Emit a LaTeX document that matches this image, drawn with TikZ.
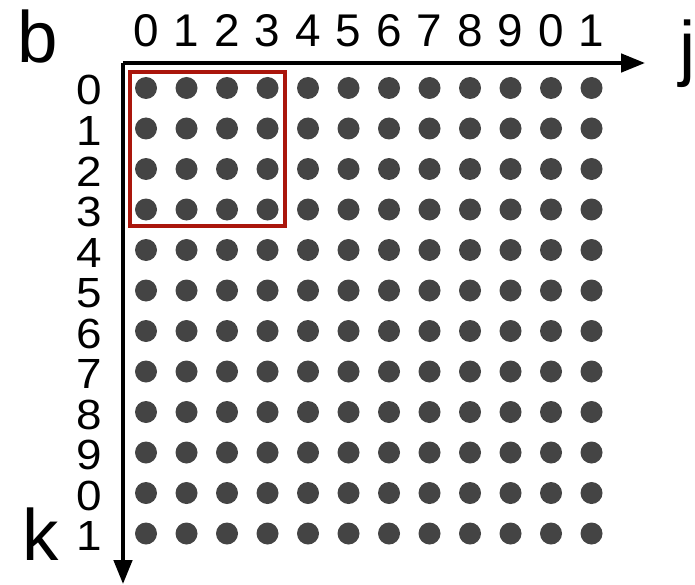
\documentclass[tikz,border=0pt]{standalone}
\usepackage{fontspec}
\setmainfont{Liberation Sans}
\usetikzlibrary{arrows.meta}
\definecolor{dotgray}{RGB}{68,68,68}
\definecolor{tilered}{RGB}{170,22,12}
\tikzset{
    axisline/.style={line width=2.6pt, -{Triangle[length=17pt, width=13pt]}},
    idxlabel/.style={anchor=base, inner sep=0pt, font=\fontsize{32.6}{34}\selectfont},
    axislabel/.style={anchor=base, inner sep=0pt, font=\fontsize{51.7}{54}\selectfont},
    griddot/.style={fill=dotgray},
    tilebox/.style={draw=tilered, line width=2.9pt}
}
\begin{document}
\begin{tikzpicture}[x=0.025cm, y=-0.025cm]
    % 1 unit = 1 pixel of the original figure
    \useasboundingbox (0, 0) rectangle (695, 584);
    \def\dotsep{40.5}
    \def\dotx{146}
    \def\doty{88}

    % Axes
    \coordinate (origin) at (123, 63);
    \coordinate (jend) at (645, 63);
    \coordinate (kend) at (123, 584);
    \draw[axisline] (origin) -- (jend);
    \draw[axisline] (origin) -- (kend);

    % Axis names
    \node[axislabel] (b) at (38, 63) {b};
    \node[axislabel] (j) at (688, 73) {j};
    \node[axislabel] (k) at (41, 560) {k};

    % Column indices (j)
    \foreach \c/\lab in {0/0, 1/1, 2/2, 3/3, 4/4, 5/5, 6/6, 7/7, 8/8, 9/9, 10/0, 11/1} {
        \node[idxlabel] (col\c) at (\dotx+\dotsep*\c, 47) {\lab};
    }

    % Row indices (k)
    \foreach \r/\lab in {0/0, 1/1, 2/2, 3/3, 4/4, 5/5, 6/6, 7/7, 8/8, 9/9, 10/0, 11/1} {
        \node[idxlabel, yscale=0.92] (row\r) at (89, \doty+\dotsep*\r+17) {\lab};
    }

    % Grid of points
    \foreach \r in {0,...,11} {
        \foreach \c in {0,...,11} {
            \fill[griddot] (\dotx+\dotsep*\c, \doty+\dotsep*\r) circle (11);
        }
    }

    % Highlighted 4x4 tile
    \draw[tilebox] (130, 72) rectangle (285, 226);
\end{tikzpicture}
\end{document}
